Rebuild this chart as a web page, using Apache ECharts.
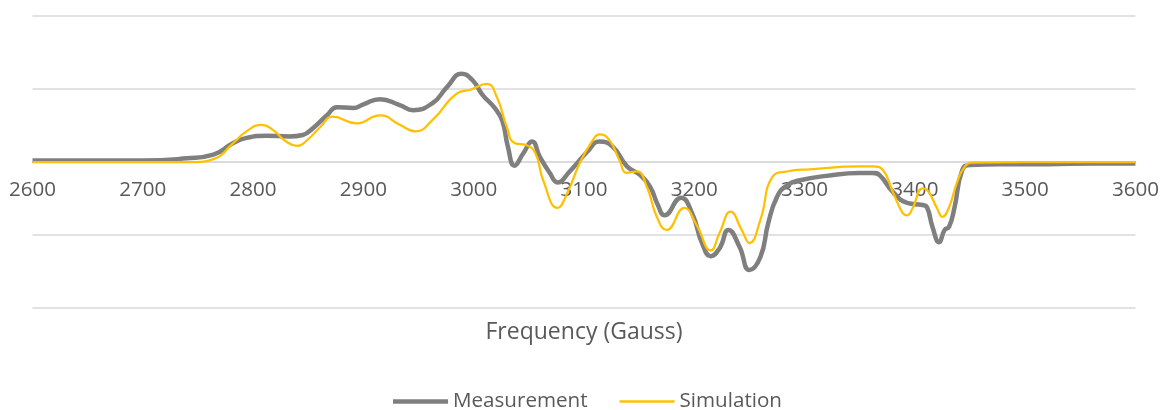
<!DOCTYPE html>
<html>
<head>
<meta charset="utf-8">
<title>EPR spectrum</title>
<script src="https://cdn.jsdelivr.net/npm/echarts@6/dist/echarts.min.js"></script>
<style>
  html, body { margin: 0; padding: 0; background: #fff; }
  #chart { width: 1162px; height: 410px; }
</style>
</head>
<body>
<div id="chart"></div>
<script>
// Field positions (Gauss) and signal amplitude of the measured spectrum
const measField = [2600, 2650, 2700, 2740, 2764, 2782, 2794, 2812, 2833, 2845, 2854, 2867, 2876, 2891, 2900, 2915,
  2933, 2945, 2963, 2976, 2989, 2999, 3008, 3019, 3026, 3031, 3037, 3045, 3053, 3060, 3069, 3076, 3087, 3103,
  3114, 3126, 3139, 3151, 3160, 3167, 3173, 3188, 3198, 3207, 3215, 3223, 3231, 3241, 3250, 3260, 3267, 3275,
  3284, 3296, 3320, 3350, 3362, 3368, 3380, 3393, 3407, 3411, 3416, 3422, 3427, 3431, 3436, 3443, 3450, 3477,
  3520, 3560, 3600];
const measValue = [0.02, 0.02, 0.02, 0.05, 0.10, 0.26, 0.33, 0.36, 0.35, 0.37, 0.46, 0.64, 0.75, 0.74, 0.79, 0.86,
  0.78, 0.71, 0.81, 1.03, 1.21, 1.12, 0.92, 0.74, 0.56, 0.21, -0.05, 0.12, 0.28, 0.07, -0.15, -0.28, -0.13, 0.14,
  0.28, 0.21, -0.06, -0.18, -0.34, -0.59, -0.73, -0.49, -0.70, -1.11, -1.29, -1.18, -0.93, -1.16, -1.48, -1.30, -0.84, -0.48,
  -0.32, -0.25, -0.19, -0.15, -0.15, -0.18, -0.41, -0.56, -0.59, -0.62, -0.89, -1.10, -0.93, -0.89, -0.62, -0.11, -0.04, -0.03,
  -0.03, -0.02, -0.02];

// Field positions (Gauss) and amplitude of the simulated spectrum
const simField = [2600, 2700, 2745, 2764, 2782, 2794, 2808, 2818, 2830, 2840, 2849, 2861, 2872, 2894, 2915, 2933,
  2947, 2963, 2985, 2997, 3012, 3021, 3030, 3037, 3048, 3056, 3063, 3076, 3085, 3096, 3108, 3114, 3123, 3132,
  3139, 3148, 3157, 3166, 3175, 3191, 3202, 3215, 3223, 3233, 3243, 3250, 3260, 3271, 3284, 3305, 3350, 3362,
  3371, 3380, 3389, 3393, 3398, 3407, 3411, 3420, 3425, 3431, 3438, 3445, 3452, 3500, 3600];
const simValue = [0, 0, 0, 0.04, 0.26, 0.42, 0.51, 0.44, 0.28, 0.22, 0.30, 0.48, 0.62, 0.53, 0.64, 0.51,
  0.42, 0.58, 0.94, 0.99, 1.07, 0.89, 0.48, 0.26, 0.23, 0.12, -0.25, -0.63, -0.42, -0.02, 0.30, 0.38, 0.30, 0.03,
  -0.15, -0.13, -0.34, -0.75, -0.93, -0.63, -0.86, -1.21, -0.97, -0.68, -0.93, -1.11, -0.79, -0.20, -0.13, -0.10, -0.06, -0.06,
  -0.11, -0.41, -0.70, -0.73, -0.63, -0.36, -0.38, -0.63, -0.75, -0.62, -0.29, -0.07, -0.01, 0, 0];

const seriesNames = ['Measurement', 'Simulation'];
const axisTitle = 'Frequency (Gauss)';

const zip = (xs, ys) => xs.map((x, i) => [x, ys[i]]);

const chart = echarts.init(document.getElementById('chart'));
const textColor = '#595959';
const fontFamily = '"Open Sans", "Noto Sans", sans-serif';
const labelSize = 20.6;
const titleSize = 23;

// plot area: y range -2..2 over 292 px, so the zero line sits 146 px above the bottom edge
const gridTop = 16, gridBottom = 102, chartHeight = 410;
const zeroOffset = (chartHeight - gridTop - gridBottom) / 2;

chart.setOption({
  animation: false,
  grid: { left: 32.5, right: 26.5, top: gridTop, bottom: gridBottom, containLabel: false },
  xAxis: {
    type: 'value',
    min: 2600,
    max: 3600,
    interval: 100,
    offset: -zeroOffset,
    axisLine: { show: true, onZero: false, lineStyle: { color: '#d9d9d9', width: 1.5 } },
    axisTick: { show: false },
    splitLine: { show: false },
    axisLabel: {
      color: textColor, fontSize: labelSize, fontFamily: fontFamily, margin: 18,
      formatter: (v) => String(v)
    }
  },
  yAxis: {
    type: 'value',
    min: -2,
    max: 2,
    interval: 1,
    axisLine: { show: false },
    axisTick: { show: false },
    axisLabel: { show: false },
    splitLine: { lineStyle: { color: '#d9d9d9', width: 1.5 } }
  },
  legend: {
    top: 386,
    left: 388,
    itemWidth: 55,
    itemHeight: 14,
    itemGap: 32,
    symbolKeepAspect: true,
    textStyle: { color: textColor, fontSize: labelSize, fontFamily: fontFamily },
    data: [
      { name: seriesNames[0], icon: 'path://M0 0L55 0L55 4.5L0 4.5Z', itemStyle: { color: '#7f7f7f' } },
      { name: seriesNames[1], icon: 'path://M0 0L52 0L52 2.2L0 2.2Z', itemStyle: { color: '#ffc000' } }
    ]
  },
  graphic: [{
    type: 'text',
    x: 584,
    y: 332,
    style: {
      text: axisTitle,
      fill: textColor,
      font: titleSize + 'px "Open Sans", "Noto Sans", sans-serif',
      textAlign: 'center',
      textVerticalAlign: 'middle'
    }
  }],
  series: [
    {
      name: seriesNames[0],
      type: 'line',
      data: zip(measField, measValue),
      symbol: 'none',
      smooth: 0.5,
      lineStyle: { color: '#7f7f7f', width: 4.5 },
      itemStyle: { color: '#7f7f7f' },
      z: 2
    },
    {
      name: seriesNames[1],
      type: 'line',
      data: zip(simField, simValue),
      symbol: 'none',
      smooth: 0.5,
      lineStyle: { color: '#ffc000', width: 2.25 },
      itemStyle: { color: '#ffc000' },
      z: 3
    }
  ]
});
</script>
</body>
</html>
